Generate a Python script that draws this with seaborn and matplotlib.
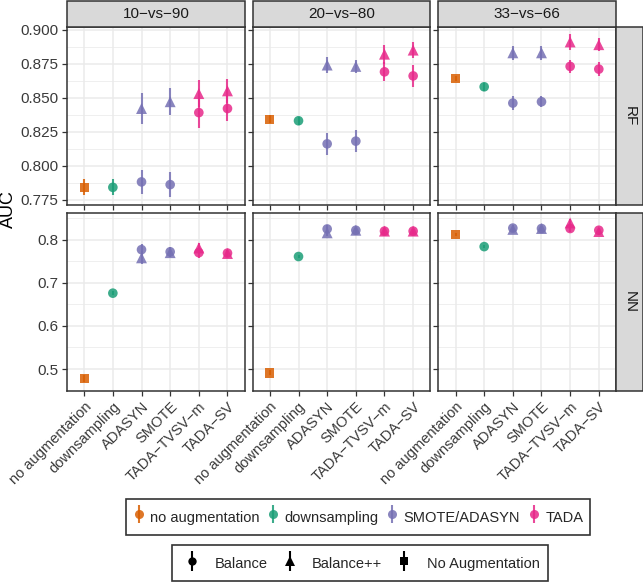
import numpy as np
import pandas as pd
import matplotlib
matplotlib.use("Agg")
import matplotlib.pyplot as plt
from matplotlib.lines import Line2D
from matplotlib.patches import Rectangle
from matplotlib.ticker import MultipleLocator
import seaborn as sns

# =========================
# DATA
# =========================
methods = ["no augmentation", "downsampling", "ADASYN", "SMOTE", "TADA−TVSV−m", "TADA−SV"]
method_groups = ["no augmentation", "downsampling", "SMOTE/ADASYN", "SMOTE/ADASYN", "TADA", "TADA"]
balance_types = ["No Augmentation", "Balance", "Balance", "Balance", "Balance", "Balance"]
bpp_methods = ["ADASYN", "SMOTE", "TADA−TVSV−m", "TADA−SV"]
splits = ["10−vs−90", "20−vs−80", "33−vs−66"]
classifiers = ["RF", "NN"]

# Balance (and no augmentation) results, one list per split
rf_bal_auc = [[0.784, 0.784, 0.788, 0.786, 0.839, 0.842],
              [0.834, 0.833, 0.816, 0.818, 0.869, 0.866],
              [0.864, 0.858, 0.846, 0.847, 0.873, 0.871]]
rf_bal_err = [[0.006, 0.006, 0.009, 0.009, 0.011, 0.009],
              [0.003, 0.003, 0.008, 0.008, 0.007, 0.008],
              [0.002, 0.003, 0.005, 0.004, 0.005, 0.005]]
nn_bal_auc = [[0.478, 0.676, 0.777, 0.772, 0.770, 0.769],
              [0.491, 0.761, 0.825, 0.822, 0.820, 0.820],
              [0.812, 0.784, 0.827, 0.826, 0.826, 0.822]]
nn_bal_err = [[0.008, 0.005, 0.012, 0.010, 0.012, 0.008],
              [0.006, 0.004, 0.008, 0.005, 0.006, 0.005],
              [0.004, 0.004, 0.007, 0.006, 0.008, 0.006]]

# Balance++ results
rf_bpp_auc = [[0.842, 0.847, 0.853, 0.855],
              [0.874, 0.873, 0.882, 0.885],
              [0.883, 0.883, 0.891, 0.889]]
rf_bpp_err = [[0.0115, 0.010, 0.010, 0.009],
              [0.006, 0.005, 0.007, 0.006],
              [0.005, 0.005, 0.006, 0.005]]
nn_bpp_auc = [[0.758, 0.770, 0.781, 0.768],
              [0.816, 0.822, 0.820, 0.820],
              [0.824, 0.826, 0.839, 0.819]]
nn_bpp_err = [[0.015, 0.010, 0.012, 0.008],
              [0.008, 0.006, 0.008, 0.006],
              [0.007, 0.006, 0.010, 0.007]]

# =========================
# LONG TABLE
# =========================
rows = []
tables = {"RF": (rf_bal_auc, rf_bal_err, rf_bpp_auc, rf_bpp_err),
          "NN": (nn_bal_auc, nn_bal_err, nn_bpp_auc, nn_bpp_err)}
for clf in classifiers:
    bal_auc, bal_err, bpp_auc, bpp_err = tables[clf]
    for si, split in enumerate(splits):
        for mi, m in enumerate(methods):
            rows.append(dict(clf=clf, split=split, method=m, group=method_groups[mi],
                             type=balance_types[mi], auc=bal_auc[si][mi], err=bal_err[si][mi]))
        for mi, m in enumerate(bpp_methods):
            rows.append(dict(clf=clf, split=split, method=m, group=method_groups[methods.index(m)],
                             type="Balance++", auc=bpp_auc[si][mi], err=bpp_err[si][mi]))
df = pd.DataFrame(rows)
df["x"] = df["method"].map({m: i for i, m in enumerate(methods)})

# =========================
# STYLE
# =========================
sns.set_theme(style="white")
plt.rcParams["font.family"] = ["Liberation Sans", "DejaVu Sans"]

group_order = ["no augmentation", "downsampling", "SMOTE/ADASYN", "TADA"]
palette = dict(zip(group_order, ["#D95F02", "#1B9E77", "#7570B3", "#E7298A"]))
type_order = ["Balance", "Balance++", "No Augmentation"]
markers = {"Balance": "o", "Balance++": "^", "No Augmentation": "s"}
msizes = {"Balance": 48, "Balance++": 62, "No Augmentation": 44}
ALPHA = 0.85
GRID = "#EBEBEB"
DARK = "#333333"


def draw_points(data, **kws):
    ax = plt.gca()
    for _, r in data.iterrows():
        ax.errorbar(r["x"], r["auc"], yerr=r["err"], fmt="none",
                    ecolor=palette[r["group"]], elinewidth=1.5, alpha=ALPHA, zorder=3)
    sns.scatterplot(data=data, x="x", y="auc", hue="group", style="type", size="type",
                    palette=palette, markers=markers, sizes=msizes, hue_order=group_order,
                    style_order=type_order, size_order=type_order, alpha=ALPHA,
                    linewidth=0, legend=False, ax=ax, zorder=4)


g = sns.FacetGrid(df, row="clf", col="split", row_order=classifiers, col_order=splits,
                  sharex=True, sharey="row", height=2, aspect=1, despine=False)
g.map_dataframe(draw_points)
fig = g.figure
fig.set_size_inches(6.43, 5.84)
fig.subplots_adjust(left=67 / 643, right=616 / 643, top=1 - 27 / 584,
                    bottom=1 - 391 / 584, wspace=8 / 178, hspace=8 / 178)
g.set_titles("")

ylims = {"RF": (0.771, 0.902), "NN": (0.449, 0.862)}
ymaj = {"RF": 0.025, "NN": 0.1}
yfmt = {"RF": "{:.3f}", "NN": "{:.1f}"}

for ri, clf in enumerate(classifiers):
    for ci, split in enumerate(splits):
        ax = g.axes[ri, ci]
        ax.set_facecolor("white")
        ax.set_xlim(-0.6, 5.6)
        ax.set_ylim(*ylims[clf])
        ax.yaxis.set_major_locator(MultipleLocator(ymaj[clf]))
        ax.yaxis.set_minor_locator(MultipleLocator(ymaj[clf] / 2))
        ax.set_xticks(range(len(methods)))
        ax.grid(which="major", color=GRID, linewidth=1.1, zorder=0)
        ax.grid(which="minor", axis="y", color=GRID, linewidth=0.55, zorder=0)
        ax.set_axisbelow(True)
        for sp in ax.spines.values():
            sp.set_color(DARK)
            sp.set_linewidth(1.1)
        ax.tick_params(which="major", length=3.5, width=0.9, color=DARK, pad=2.5,
                       labelsize=11, labelcolor="#3A3A3A", left=True, bottom=True)
        ax.tick_params(which="minor", length=0)
        ax.set_xlabel("")
        ax.set_ylabel("")
        if ci == 0:
            ax.set_yticklabels([yfmt[clf].format(t) for t in ax.get_yticks()])
        if ri == 1:
            ax.set_xticklabels(methods, rotation=45, ha="right", rotation_mode="anchor",
                               fontsize=10.5, color="#3A3A3A")
        # strips
        if ri == 0:
            ax.add_patch(Rectangle((0, 1), 1, 26 / 178, transform=ax.transAxes,
                                   facecolor="#D9D9D9", edgecolor=DARK, linewidth=1.1,
                                   clip_on=False, zorder=5))
            ax.text(0.5, 1 + 13 / 178, split, transform=ax.transAxes, ha="center",
                    va="center", fontsize=11, color="#1A1A1A", zorder=6)
        if ci == 2:
            ax.add_patch(Rectangle((1, 0), 27 / 178, 1, transform=ax.transAxes,
                                   facecolor="#D9D9D9", edgecolor=DARK, linewidth=1.1,
                                   clip_on=False, zorder=5))
            ax.text(1 + 13.5 / 178, 0.5, clf, transform=ax.transAxes, ha="center",
                    va="center", rotation=-90, fontsize=11, color="#1A1A1A", zorder=6)

fig.text(0.0125, 1 - 209 / 584, "AUC", rotation=90, ha="center", va="center",
         fontsize=13, color="black")

# =========================
# LEGENDS
# =========================
def pr_handle(color, marker, ms, bar_ms):
    a = ALPHA if color != "black" else 1
    bar = Line2D([], [], color=color, marker="|", markersize=bar_ms, markeredgewidth=1.5,
                 linestyle="none", alpha=a)
    dot = Line2D([], [], color=color, marker=marker, markersize=ms, linestyle="none",
                 markeredgewidth=0, alpha=a)
    return (bar, dot)


h1 = [pr_handle(palette[gname], "o", 6.5, 13) for gname in group_order]
leg1 = fig.legend(h1, group_order, loc="center", bbox_to_anchor=(358 / 643, 1 - 517 / 584),
                  ncol=4, frameon=True, fancybox=False, edgecolor="black", fontsize=10.5,
                  handlelength=0.8, handleheight=1.9, handletextpad=0.36,
                  columnspacing=0.56, borderpad=0.5, borderaxespad=0)
leg1.get_frame().set_linewidth(1.2)

h2 = [pr_handle("black", markers[t], 6 if t != "Balance++" else 7, 15) for t in type_order]
leg2 = fig.legend(h2, type_order, loc="center", bbox_to_anchor=(360 / 643, 1 - 563 / 584),
                  ncol=3, frameon=True, fancybox=False, edgecolor="black", fontsize=10.5,
                  handlelength=1.6, handleheight=1.6, handletextpad=0.71,
                  columnspacing=0.74, borderpad=0.57, borderaxespad=0)
leg2.get_frame().set_linewidth(1.2)

fig.savefig("out.png", dpi=100)
